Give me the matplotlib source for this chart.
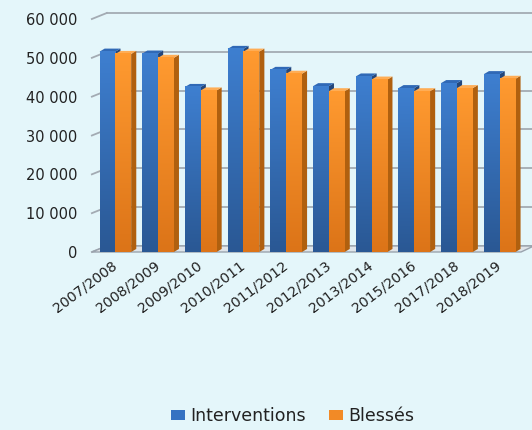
import numpy as np
import matplotlib
matplotlib.use('Agg')
import matplotlib.pyplot as plt
from matplotlib.patches import Polygon, Patch
from matplotlib.colors import LinearSegmentedColormap

seasons = ['2007/2008', '2008/2009', '2009/2010', '2010/2011', '2011/2012',
           '2012/2013', '2013/2014', '2015/2016', '2017/2018', '2018/2019']
interventions = [51600, 51100, 42500, 52300, 46900, 42700, 45200, 42200, 43500, 45800]
blesses = [51000, 50000, 41600, 51600, 45900, 41400, 44400, 41400, 42200, 44600]
yticks = [0, 10000, 20000, 30000, 40000, 50000, 60000]

bg = '#e4f6fa'
grid_col = '#a3abb3'

plt.rcParams['font.family'] = 'DejaVu Sans'

fig = plt.figure(figsize=(5.32, 4.30), dpi=100, facecolor=bg)
ax = fig.add_axes([94 / 532, 1 - 252 / 430, 427 / 532, 233 / 430])
ax.set_facecolor('none')
ax.set_xlim(0, len(seasons))
ax.set_ylim(0, 60000)

# fake 3d depth (data units)
wall_dx, wall_dy = 0.30, 1550
bar_dx, bar_dy = 0.12, 780
width = 0.37

# back wall gridlines + floor
for v in yticks:
    ax.plot([-0.05, wall_dx], [v, v + wall_dy], color=grid_col, lw=1.3, clip_on=False, zorder=1)
    ax.plot([wall_dx, len(seasons) + 0.6], [v + wall_dy, v + wall_dy], color=grid_col,
            lw=1.3, clip_on=False, zorder=1)
floor = Polygon([(-0.05, 0), (len(seasons), 0), (len(seasons) + wall_dx, wall_dy), (wall_dx, wall_dy)],
                closed=True, facecolor='#dfe5ea', edgecolor='#9aa3ad', lw=1.0, clip_on=False, zorder=2)
ax.add_patch(floor)

blue_cm = LinearSegmentedColormap.from_list('b', ['#2a5894', '#3e7fd0'])
orange_cm = LinearSegmentedColormap.from_list('o', ['#dc7418', '#ff9a30'])
grad = np.linspace(0, 1, 64).reshape(-1, 1)


def bar3d(x0, h, cmap, side, top, z):
    x1 = x0 + width
    ax.add_patch(Polygon([(x1, 0), (x1 + bar_dx, bar_dy), (x1 + bar_dx, h + bar_dy), (x1, h)],
                         closed=True, facecolor=side, edgecolor='none', zorder=z))
    ax.add_patch(Polygon([(x0, h), (x0 + bar_dx, h + bar_dy), (x1 + bar_dx, h + bar_dy), (x1, h)],
                         closed=True, facecolor=top, edgecolor='none', zorder=z))
    ax.imshow(grad, cmap=cmap, origin='lower', extent=[x0, x1, 0, h], aspect='auto',
              interpolation='bilinear', zorder=z + 0.1)


for i, (a, b) in enumerate(zip(interventions, blesses)):
    c = i + 0.5
    bar3d(c - width, a, blue_cm, '#23467a', '#3069b6', 3 + 2 * i)
    bar3d(c, b, orange_cm, '#b0600f', '#ffad55', 4 + 2 * i)

ax.set_xlim(0, len(seasons))
ax.set_ylim(0, 60000)

ax.set_yticks(yticks)
ax.set_yticklabels([f'{v:,}'.replace(',', ' ') for v in yticks], fontsize=10.5, color='#222222')
ax.set_xticks(np.arange(len(seasons)) + 0.5)
ax.set_xticklabels(seasons, rotation=37, ha='right', va='center', rotation_mode='anchor',
                   fontsize=10.2, color='#222222')
ax.tick_params(axis='y', length=0, pad=12)
ax.tick_params(axis='x', length=0, pad=8.5)
for s in ax.spines.values():
    s.set_visible(False)

handles = [Patch(facecolor='#3572c2', label='Interventions'),
           Patch(facecolor='#f28a26', label='Blessés')]
fig.legend(handles=handles, loc='center', bbox_to_anchor=(0.55, 0.032), ncol=2, frameon=False,
           fontsize=12.5, handlelength=0.8, handleheight=0.55, handletextpad=0.3,
           columnspacing=1.3, labelcolor='#222222')

fig.savefig('out.png', dpi=100, facecolor=bg)
